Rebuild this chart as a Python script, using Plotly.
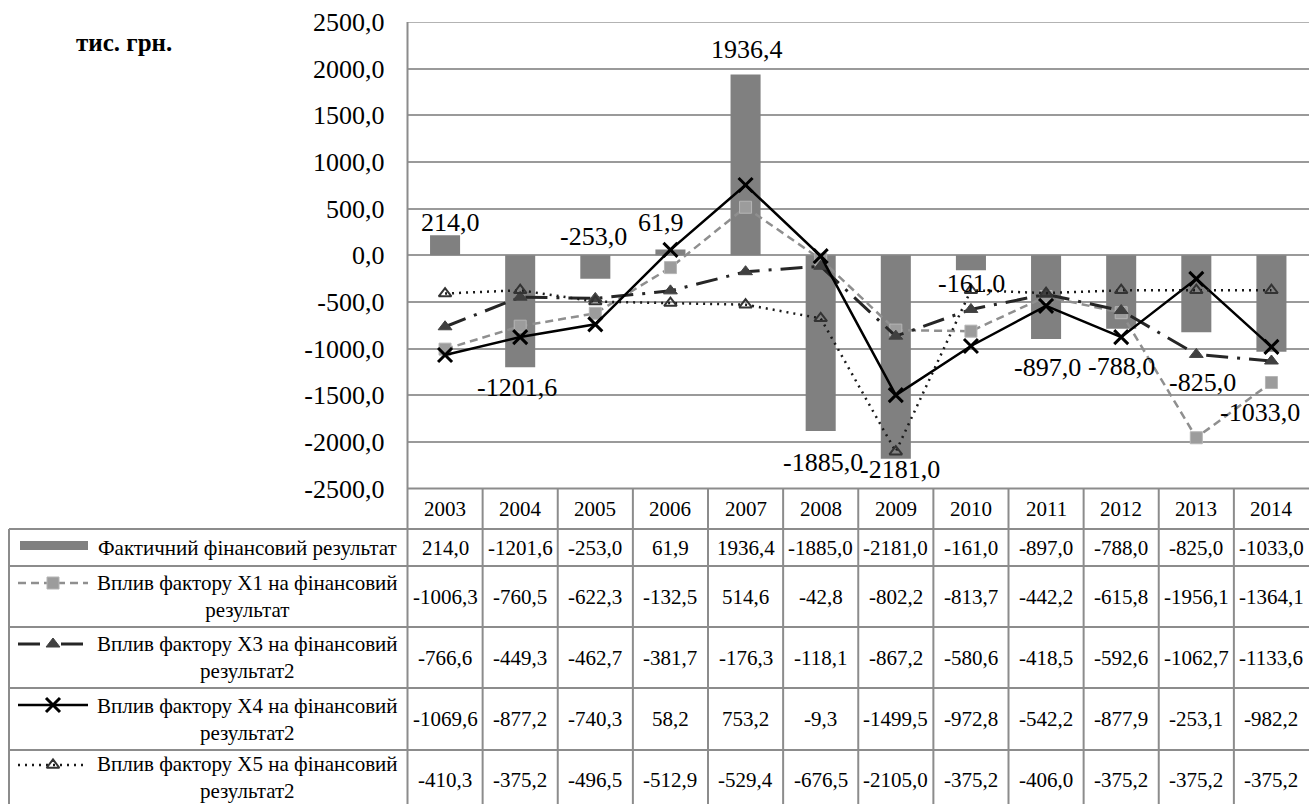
import plotly.graph_objects as go

# ---------------- data ----------------
years = ['2003', '2004', '2005', '2006', '2007', '2008', '2009', '2010', '2011', '2012', '2013', '2014']
actual = [214.0, -1201.6, -253.0, 61.9, 1936.4, -1885.0, -2181.0, -161.0, -897.0, -788.0, -825.0, -1033.0]
x1_vals = [-1006.3, -760.5, -622.3, -132.5, 514.6, -42.8, -802.2, -813.7, -442.2, -615.8, -1956.1, -1364.1]
x3_vals = [-766.6, -449.3, -462.7, -381.7, -176.3, -118.1, -867.2, -580.6, -418.5, -592.6, -1062.7, -1133.6]
x4_vals = [-1069.6, -877.2, -740.3, 58.2, 753.2, -9.3, -1499.5, -972.8, -542.2, -877.9, -253.1, -982.2]
x5_vals = [-410.3, -375.2, -496.5, -512.9, -529.4, -676.5, -2105.0, -375.2, -406.0, -375.2, -375.2, -375.2]

series_names = [
    'Фактичний фінансовий результат',
    'Вплив фактору X1 на фінансовий<br>результат',
    'Вплив фактору X3 на фінансовий<br>результат2',
    'Вплив фактору X4 на фінансовий<br>результат2',
    'Вплив фактору X5 на фінансовий<br>результат2',
]
y_ticks = [2500, 2000, 1500, 1000, 500, 0, -500, -1000, -1500, -2000, -2500]
unit_label = 'тис. грн.'

# ---------------- styles ----------------
W, H = 1309, 804
FONT = '"Liberation Serif", "Times New Roman", serif'
BAR_C = '#808080'
GRID_C = '#9a9a9a'
TAB_C = '#8c8c8c'
label_dy = [13, -20, 42, 27, 25, -31, -11, -13, -29, -38, -50, -61]
label_dx = [5, -3, -2, -9, 1, 2, 4, 1, 1, 0, 6, -11]


def fmt(v):
    return f'{v:.1f}'.replace('.', ',')


def py(p):
    return 1 - p / H


def px(p):
    return p / W


X_DOM = [407.5 / W, 1.0]
Y_DOM = [py(488.5), py(22)]

fig = go.Figure()

fig.add_trace(go.Bar(x=years, y=actual, marker=dict(color=BAR_C, line=dict(width=0)),
                     width=0.4, name=series_names[0], showlegend=False))

line_styles = [
    dict(color='#8f8f8f', width=2.5, dash='8px,5px'),
    dict(color='#262626', width=3, dash='22px,9px,3px,9px'),
    dict(color='#000000', width=2.5),
    dict(color='#1a1a1a', width=2.5, dash='2px,5px'),
]
marker_styles = [
    dict(symbol='square', size=12, color='#9c9c9c', line=dict(color='#b5b5b5', width=1)),
    dict(symbol='triangle-up', size=12, color='#404040', line=dict(color='#404040', width=1)),
    dict(symbol='x-thin', size=14, color='#000000', line=dict(color='#000000', width=3)),
    dict(symbol='triangle-up-open', size=11, color='#333333', line=dict(color='#333333', width=2)),
]
for vals, name, ls, ms in zip([x1_vals, x3_vals, x4_vals, x5_vals], series_names[1:], line_styles, marker_styles):
    fig.add_trace(go.Scatter(x=years, y=vals, mode='lines+markers', name=name,
                             line=ls, marker=ms, showlegend=False, cliponaxis=False))

annotations = []
# bar data labels
for i, v in enumerate(actual):
    annotations.append(dict(x=i, y=v, xref='x', yref='y', text=fmt(v), showarrow=False,
                            xanchor='center', yanchor='middle',
                            yshift=label_dy[i], xshift=label_dx[i],
                            font=dict(family=FONT, size=26, color='#000')))

# unit label
annotations.append(dict(x=px(124), y=py(43), xref='paper', yref='paper', text=f'<b>{unit_label}</b>',
                        showarrow=False, xanchor='center', yanchor='middle',
                        font=dict(family=FONT, size=25, color='#000')))

# table geometry (pixel rows)
row_edges = [488.5, 529, 566, 627, 688, 750, 812]
row_centers = [(a + b) / 2 for a, b in zip(row_edges[:-1], row_edges[1:])]
row_centers[-1] = 777
table_rows = [actual, x1_vals, x3_vals, x4_vals, x5_vals]

# header years
for i, yr in enumerate(years):
    annotations.append(dict(x=i, y=py(row_centers[0]), xref='x', yref='paper', text=yr,
                            showarrow=False, xanchor='center', yanchor='middle',
                            font=dict(family=FONT, size=21, color='#000')))
# value cells
for r, vals in enumerate(table_rows):
    for i, v in enumerate(vals):
        annotations.append(dict(x=i, y=py(row_centers[r + 1] + (3 if r == 4 else 0)), xref='x', yref='paper',
                                text=fmt(v), showarrow=False, xanchor='center', yanchor='middle',
                                font=dict(family=FONT, size=21, color='#000')))
# legend labels
for r, name in enumerate(series_names):
    annotations.append(dict(x=px(248), y=py(row_centers[r + 1]), xref='paper', yref='paper',
                            text=name, showarrow=False, align='center', xanchor='center', yanchor='middle',
                            font=dict(family=FONT, size=21, color='#000')))

shapes = []
# top border line of plot area
shapes.append(dict(type='line', xref='paper', yref='y', x0=X_DOM[0], x1=1, y0=y_ticks[0], y1=y_ticks[0],
                   line=dict(color=GRID_C, width=1.5)))
# horizontal table lines
for k, ry in enumerate(row_edges[:-1]):
    x0 = X_DOM[0] if k == 0 else px(9)
    shapes.append(dict(type='line', xref='paper', yref='paper', x0=x0, x1=1, y0=py(ry), y1=py(ry),
                       line=dict(color=TAB_C, width=2)))
# vertical lines
shapes.append(dict(type='line', xref='paper', yref='paper', x0=px(9), x1=px(9), y0=py(529), y1=0,
                   line=dict(color=TAB_C, width=2)))
shapes.append(dict(type='line', xref='paper', yref='paper', x0=X_DOM[0], x1=X_DOM[0], y0=py(22), y1=0,
                   line=dict(color=TAB_C, width=2)))
for i in range(len(years) - 1):
    shapes.append(dict(type='line', xref='x', yref='paper', x0=i + 0.5, x1=i + 0.5, y0=py(488.5), y1=0,
                       line=dict(color=TAB_C, width=2)))
# legend key for bars
shapes.append(dict(type='rect', xref='paper', yref='paper', x0=px(20), x1=px(88), y0=py(550), y1=py(541),
                   fillcolor=BAR_C, line=dict(width=0)))

# legend keys (line samples) on a full-figure overlay axis
key_rows = [583, 644, 705, 765]
for ry, ls, ms in zip(key_rows, line_styles, marker_styles):
    fig.add_trace(go.Scatter(x=[18, 88], y=[ry, ry], mode='lines', line=ls, xaxis='x2', yaxis='y2',
                             showlegend=False, hoverinfo='skip'))
    fig.add_trace(go.Scatter(x=[53], y=[ry], mode='markers', marker=ms, xaxis='x2', yaxis='y2',
                             showlegend=False, hoverinfo='skip'))

fig.update_layout(
    width=W, height=H,
    margin=dict(l=0, r=0, t=0, b=0, pad=0),
    paper_bgcolor='white', plot_bgcolor='rgba(0,0,0,0)',
    font=dict(family=FONT, color='#000'),
    xaxis=dict(domain=X_DOM, type='category', range=[-0.5, 11.5], showticklabels=False,
               showgrid=False, zeroline=False, showline=False, ticks='', automargin=False),
    yaxis=dict(domain=Y_DOM, range=[-2500, 2500], tickvals=y_ticks, ticktext=[fmt(v) for v in y_ticks],
               showgrid=True, gridcolor=GRID_C, gridwidth=1.5, zeroline=False, showline=False,
               ticks='', ticklabelstandoff=22, automargin=False,
               tickfont=dict(family=FONT, size=26, color='#000')),
    xaxis2=dict(domain=[0, 1], range=[0, W], visible=False, anchor='y2', fixedrange=True, automargin=False),
    yaxis2=dict(domain=[0, 1], range=[H, 0], visible=False, anchor='x2', fixedrange=True, automargin=False),
    annotations=annotations,
    shapes=shapes,
    showlegend=False,
)

fig.write_html('out.html', config={'displayModeBar': False},
               post_script="document.body.style.margin='0px';document.body.style.overflow='hidden';")
